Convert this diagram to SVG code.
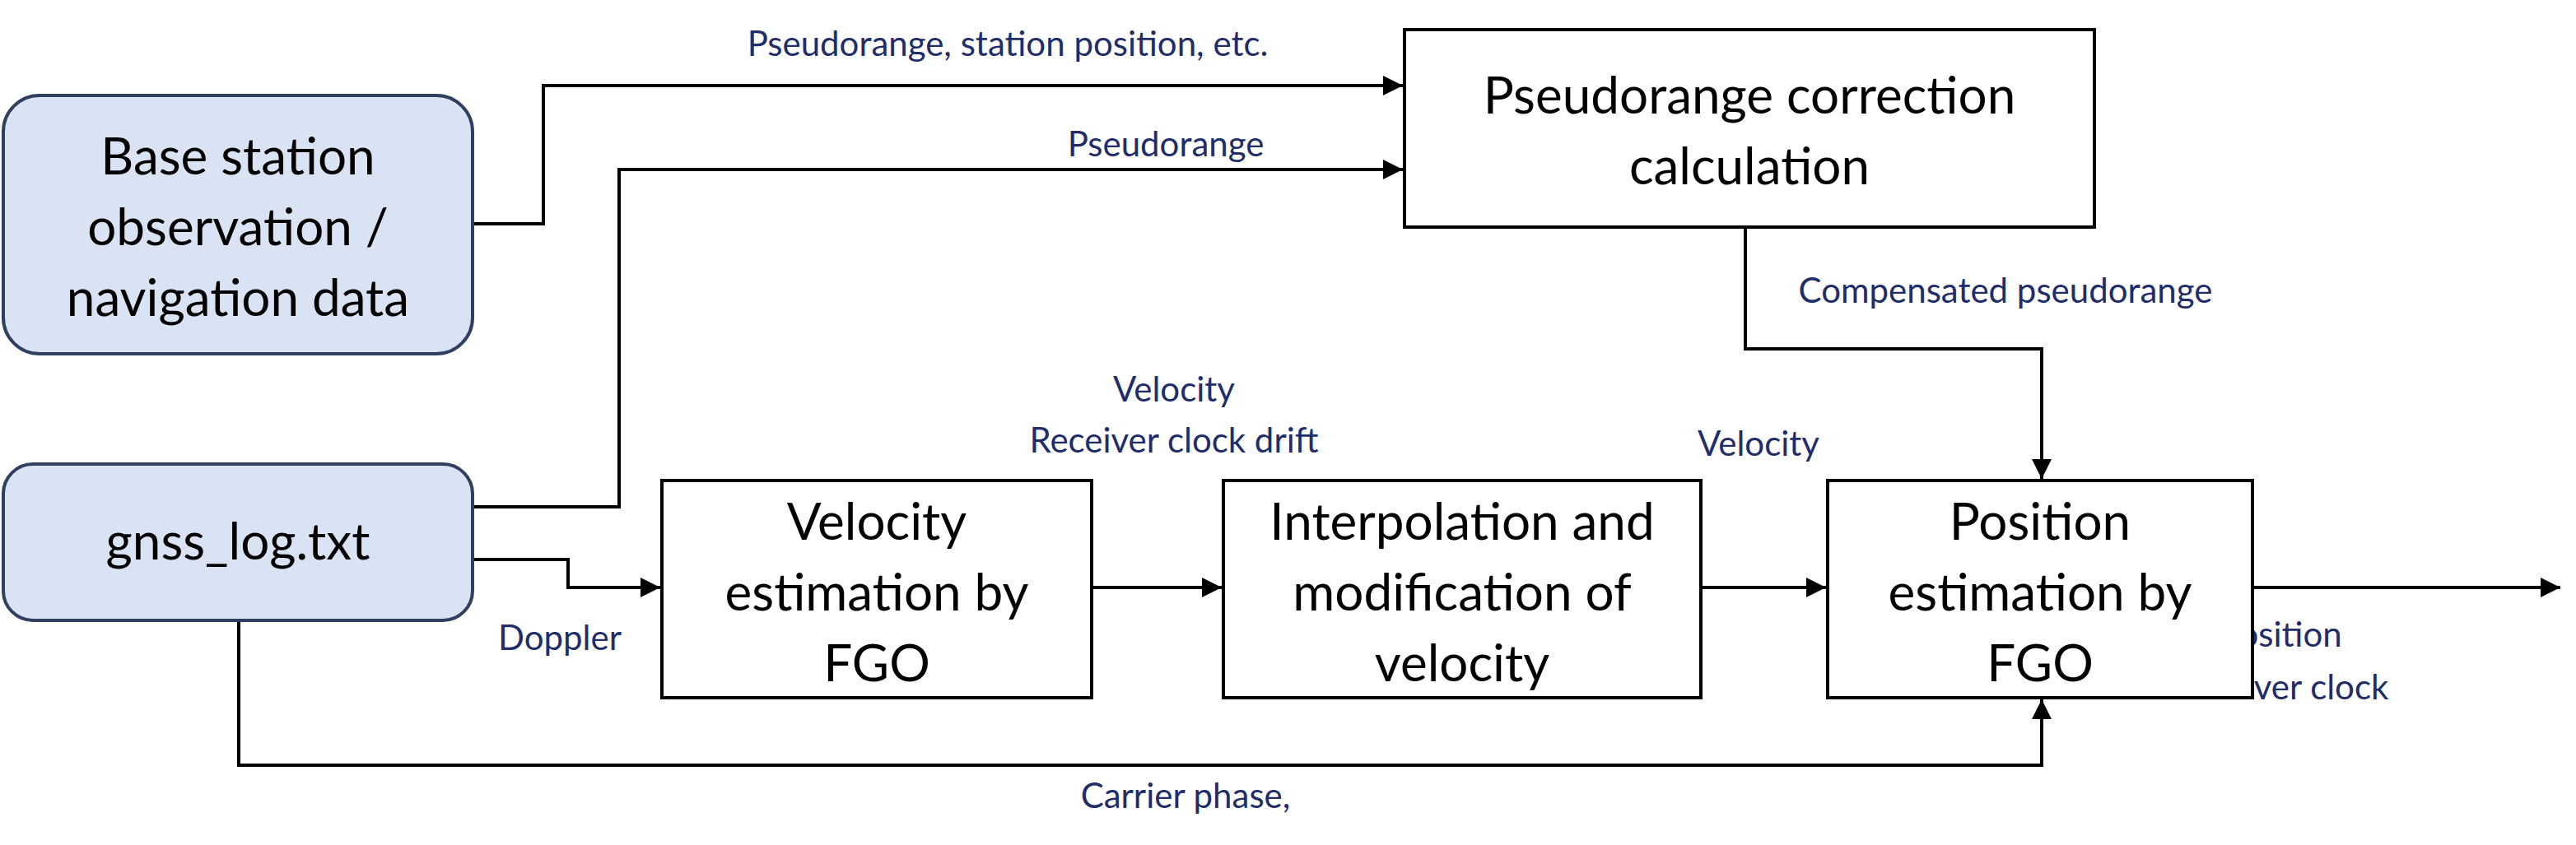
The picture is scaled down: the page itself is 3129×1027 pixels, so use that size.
<svg xmlns="http://www.w3.org/2000/svg" width="3129" height="1027" viewBox="0 0 3129 1027">
<style>
.src{fill:#dae3f3;stroke:#2f3f5f;stroke-width:4}
.box{fill:#fff;stroke:#000;stroke-width:4}
.t{font-family:Lato,"Open Sans",sans-serif;font-size:62px;fill:#000;text-anchor:middle}
.l{font-family:Lato,"Open Sans",sans-serif;font-size:42px;fill:#1f2d6b;text-anchor:middle}
.c{fill:none;stroke:#000;stroke-width:4}
</style>
<defs><marker id="a" viewBox="0 0 10 10" refX="10" refY="5" markerWidth="6" markerHeight="6" orient="auto" markerUnits="strokeWidth"><path d="M0,0L10,5L0,10z" fill="#000"/></marker></defs>
<rect width="3129" height="1027" fill="#fff"/>
<g id="connectors">
<path class="c" marker-end="url(#a)" d="M574,272H660V104H1704"/>
<path class="c" marker-end="url(#a)" d="M574,616H752V206H1704"/>
<path class="c" marker-end="url(#a)" d="M574,680H690V714H802"/>
<path class="c" marker-end="url(#a)" d="M1326,714H1484"/>
<path class="c" marker-end="url(#a)" d="M2066,714H2218"/>
<path class="c" marker-end="url(#a)" d="M2120,276V424H2480V582"/>
<path class="c" marker-end="url(#a)" d="M2736,714H3110"/>
<path class="c" marker-end="url(#a)" d="M290,754V930H2480V850"/>
</g>
<g id="labels">
<text class="l" x="1224" y="68">Pseudorange, station position, etc.</text>
<text class="l" x="1416" y="190">Pseudorange</text>
<text class="l" x="680" y="790">Doppler</text>
<text class="l" x="1426" y="488">Velocity</text>
<text class="l" x="1426" y="550">Receiver clock drift</text>
<text class="l" x="2136" y="554">Velocity</text>
<text class="l" x="2436" y="368">Compensated pseudorange</text>
<text class="l" x="2770" y="786" text-anchor="start">Position</text>
<text class="l" x="2770" y="850" text-anchor="start">Receiver clock</text>
<text class="l" x="1440" y="982">Carrier phase,</text>
</g>
<g id="base"><rect class="src" x="4" y="116" width="570" height="314" rx="44"/>
<text class="t" x="289" y="212">Base station</text><text class="t" x="289" y="298">observation /</text><text class="t" x="289" y="384">navigation data</text></g>
<g id="gnss"><rect class="src" x="4" y="564" width="570" height="190" rx="36"/>
<text class="t" x="289" y="680">gnss_log.txt</text></g>
<g id="corr"><rect class="box" x="1706" y="36" width="838" height="240"/>
<text class="t" x="2125" y="138">Pseudorange correction</text><text class="t" x="2125" y="224">calculation</text></g>
<g id="vel"><rect class="box" x="804" y="584" width="522" height="264"/>
<text class="t" x="1065" y="656">Velocity</text><text class="t" x="1065" y="742">estimation by</text><text class="t" x="1065" y="828">FGO</text></g>
<g id="interp"><rect class="box" x="1486" y="584" width="580" height="264"/>
<text class="t" x="1776" y="656">Interpolation and</text><text class="t" x="1776" y="742">modification of</text><text class="t" x="1776" y="828">velocity</text></g>
<g id="pos"><rect class="box" x="2220" y="584" width="516" height="264"/>
<text class="t" x="2478" y="656">Position</text><text class="t" x="2478" y="742">estimation by</text><text class="t" x="2478" y="828">FGO</text></g>
</svg>
